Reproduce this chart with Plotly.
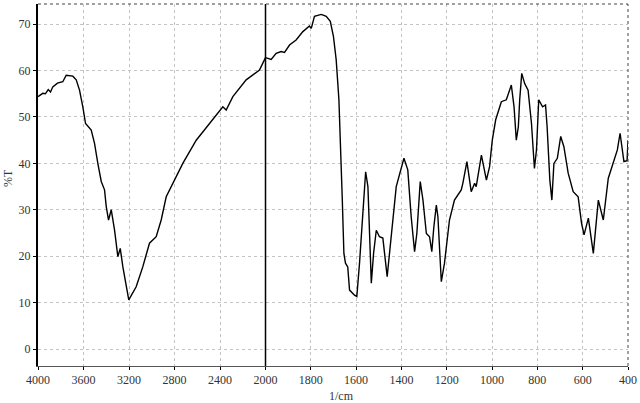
import plotly.graph_objects as go

# IR spectrum: wavenumber (1/cm) and transmittance (%T)
wavenumber = [4000, 3958, 3935, 3910, 3890, 3870, 3829, 3782, 3752, 3694, 3664, 3635, 3606, 3582, 3532, 3503,
              3474, 3444, 3415, 3400, 3380, 3356, 3327, 3298, 3277, 3254, 3202, 3137, 3079,
              3020, 2961, 2917, 2873, 2785, 2727, 2609, 2492, 2375, 2346, 2287, 2170, 2053,
              2000, 1975, 1953, 1931, 1916, 1894, 1865, 1835, 1806, 1798, 1784, 1754, 1732,
              1714, 1700, 1688, 1676, 1669, 1661, 1654, 1647, 1637, 1629, 1607, 1597, 1585,
              1570, 1558, 1548, 1533, 1523, 1511, 1497, 1482, 1463, 1445, 1423, 1389, 1372,
              1357, 1342, 1332, 1317, 1305, 1290, 1276, 1266, 1257, 1246, 1239, 1224, 1210,
              1188, 1166, 1136, 1129, 1111, 1092, 1077, 1070, 1047, 1025, 1011, 999, 984,
              959, 937, 915, 903, 893, 884, 878, 869, 856, 841, 826, 813, 804, 794, 777,
              764, 757, 745, 736, 727, 712, 697, 683, 664, 642, 620, 605, 594, 575, 553,
              531, 509, 487, 465, 447, 435, 418, 404, 400]
transmittance = [54.4, 55.1, 55.0, 55.9, 55.4, 56.5, 57.3, 57.6, 59.0, 58.8, 58.0, 55.8, 52.2, 48.6, 47.2, 44.3,
                 40.0, 36.1, 34.3, 30.7, 27.8, 30.0, 25.6, 19.9, 21.7, 17.7, 10.6, 13.4, 17.7,
                 22.8, 24.2, 27.8, 32.8, 37.1, 40.0, 45.0, 48.6, 52.2, 51.5, 54.4, 58.0, 60.1,
                 62.8, 62.4, 63.7, 64.1, 63.9, 65.5, 66.6, 68.4, 69.6, 69.1, 71.7, 72.1, 71.7,
                 70.6, 67.3, 62.3, 53.7, 45.0, 32.1, 20.6, 18.5, 17.7, 12.7, 11.6, 11.3, 18.5,
                 30.7, 38.2, 35.0, 14.2, 20.6, 25.6, 24.2, 23.9, 15.6, 24.9, 35.0, 41.1, 38.6,
                 28.5, 21.0, 24.9, 36.1, 32.1, 24.9, 24.2, 21.0, 26.3, 31.0, 28.5, 14.5, 18.5,
                 27.8, 32.1, 34.3, 35.7, 40.4, 33.9, 35.7, 35.0, 41.8, 36.4, 39.3, 45.0, 49.4,
                 53.3, 53.7, 56.9, 52.2, 45.0, 47.9, 53.7, 59.4, 57.2, 55.8, 48.6, 38.9, 42.9, 53.7, 52.2,
                 52.6, 47.9, 36.4, 32.1, 40.0, 41.1, 45.8, 43.6, 37.9, 33.9, 32.8, 27.1, 24.6, 28.2, 20.6,
                 32.1, 27.8, 36.8, 40.4, 42.9, 46.5, 40.4, 40.6, 45.0]

left_ticks = [4000, 3600, 3200, 2800, 2400]
right_ticks = [2000, 1800, 1600, 1400, 1200, 1000, 800, 600, 400]
y_ticks = [0, 10, 20, 30, 40, 50, 60, 70]

split = 0.3856
wl = [w for w in wavenumber if w >= 2000]
tl = [t for w, t in zip(wavenumber, transmittance) if w >= 2000]
wr = [w for w in wavenumber if w <= 2000]
tr = [t for w, t in zip(wavenumber, transmittance) if w <= 2000]

font = dict(family="Liberation Serif", size=12, color="#333333")
line = dict(color="black", width=1.4)

fig = go.Figure()
fig.add_trace(go.Scatter(x=wl, y=tl, mode="lines", line=line, xaxis="x", yaxis="y",
                         showlegend=False, hoverinfo="skip"))
fig.add_trace(go.Scatter(x=wr, y=tr, mode="lines", line=line, xaxis="x2", yaxis="y",
                         showlegend=False, hoverinfo="skip"))

grid = dict(showgrid=True, gridcolor="#c4c4c4", griddash="dot", gridwidth=1)
fig.update_layout(
    width=640, height=403,
    margin=dict(l=38, r=12, t=4, b=37),
    paper_bgcolor="white", plot_bgcolor="white",
    font=font,
    xaxis=dict(domain=[0, split], range=[4000, 2000], tickvals=left_ticks,
               ticktext=[str(v) for v in left_ticks], ticks="outside", ticklen=3,
               tickcolor="black", showline=True, linecolor="#555555", linewidth=1,
               zeroline=False, tickfont=font, anchor="y", **grid),
    xaxis2=dict(domain=[split, 1], range=[2000, 400], tickvals=right_ticks,
                ticktext=[str(v) for v in right_ticks], ticks="outside", ticklen=3,
                tickcolor="black", showline=True, linecolor="#555555", linewidth=1,
                zeroline=False, tickfont=font, anchor="y", **grid),
    yaxis=dict(range=[-3.66, 74.35], tickvals=y_ticks, ticks="outside", ticklen=3,
               tickcolor="black", showline=True, linecolor="black", linewidth=2,
               zeroline=False, tickfont=font, **grid),
    annotations=[
        dict(text="1/cm", x=0.515, y=-0.083, xref="paper", yref="paper",
             xanchor="center", yanchor="middle", showarrow=False, font=font),
        dict(text="%T", x=-0.052, y=0.52, xref="paper", yref="paper", textangle=-90,
             xanchor="center", yanchor="middle", showarrow=False, font=font),
    ],
    shapes=[
        dict(type="line", xref="paper", yref="paper", x0=split, x1=split, y0=0, y1=1,
             line=dict(color="black", width=1.5)),
        dict(type="line", xref="paper", yref="paper", x0=0, x1=1, y0=1, y1=1,
             line=dict(color="#444444", width=1, dash="dot")),
        dict(type="line", xref="paper", yref="paper", x0=1, x1=1, y0=0, y1=1,
             line=dict(color="#444444", width=1, dash="dot")),
    ],
)

fig.write_html("out.html", config={"displayModeBar": False},
               post_script="document.body.style.margin='0';document.body.style.overflow='hidden';")
